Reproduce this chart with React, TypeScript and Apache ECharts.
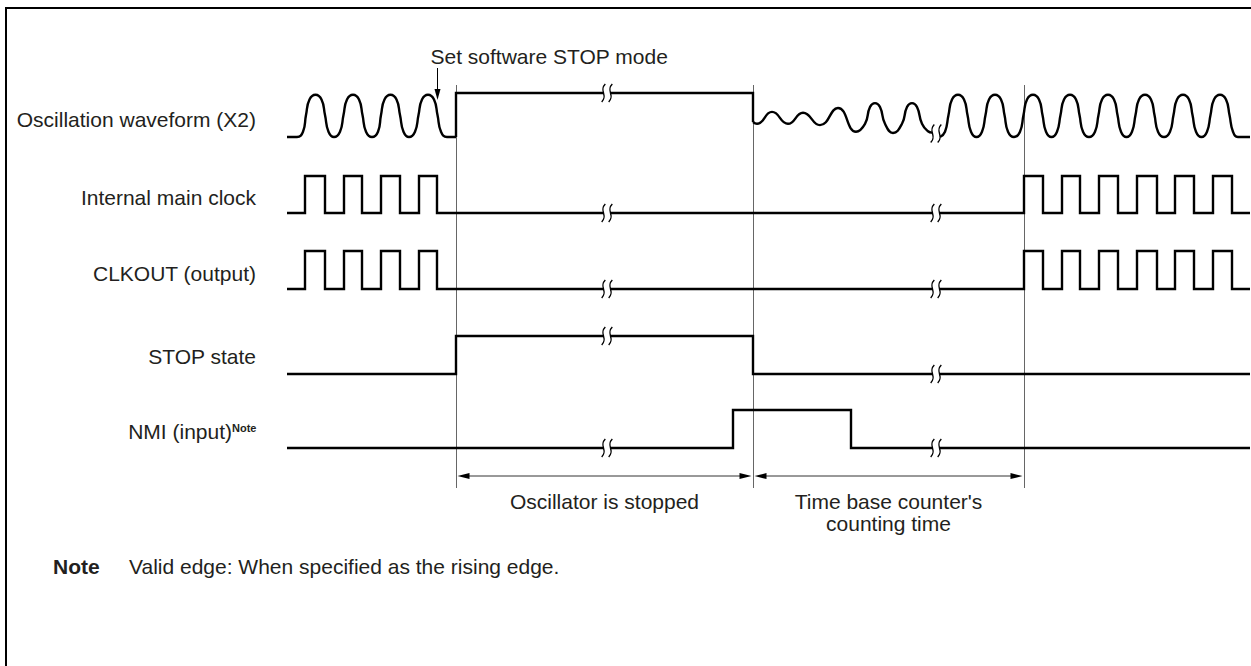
import React, { useEffect, useRef } from "react";
import * as echarts from "echarts";

const WIDTH = 1251;
const HEIGHT = 666;
const FONT = "'Liberation Sans', Arial, Helvetica, sans-serif";
const INK = "#000";
const TEXT = "#231f20";

// ---- time axis (arbitrary units) ----
const T_MIN = 0;
const T_MAX = 964;

// ---- signal names ----
const rowLabels = [
  "Oscillation waveform (X2)",
  "Internal main clock",
  "CLKOUT (output)",
  "STOP state",
  "NMI (input)",
];

// ---- Oscillation waveform (X2): [time, level] (0 = low, 1 = high) ----
const oscRunning = [
  [0, 0], [10, 0],
  [16, 0.12], [19, 0.5], [22.5, 0.85], [28.5, 0.96], [34.5, 0.85], [38, 0.5], [41.5, 0.12], [47, 0],
  [53, 0.12], [56.5, 0.5], [60, 0.85], [66, 0.96], [72, 0.85], [75.5, 0.5], [79, 0.12], [85, 0],
  [91, 0.12], [94, 0.5], [97.5, 0.85], [103.5, 0.96], [109.5, 0.85], [113, 0.5], [116.5, 0.12], [122, 0],
  [128, 0.12], [131.5, 0.5], [135, 0.85], [141, 0.96], [147, 0.85], [150.5, 0.5], [154, 0.12], [160, 0], [169, 0],
];
const oscStopped = [[169, 0], [169, 1], [466, 1], [466, 0.34]];
const oscRestart = [
  [466, 0.34], [470, 0.3], [485, 0.57], [501, 0.3], [516, 0.55], [533, 0.27], [551, 0.66], [569, 0.12],
  [578, 0.3], [583, 0.68], [588, 0.77], [593, 0.68], [598, 0.3], [606, 0.09],
  [615, 0.3], [620, 0.68], [625, 0.77], [630, 0.68], [635, 0.3], [641, 0.13], [645, 0.1],
];
const oscStable = [
  [653, 0],
  [658, 0.12], [661.5, 0.5], [665, 0.85], [671, 0.96], [677, 0.85], [680.5, 0.5], [684, 0.12], [689.5, 0],
  [695, 0.12], [698.5, 0.5], [702, 0.85], [708, 0.96], [714, 0.85], [717.5, 0.5], [721, 0.12], [727, 0],
  [733, 0.12], [736.5, 0.5], [740, 0.85], [746, 0.96], [752, 0.85], [755.5, 0.5], [759, 0.12], [764.5, 0],
  [770, 0.12], [773.5, 0.5], [777, 0.85], [783, 0.96], [789, 0.85], [792.5, 0.5], [796, 0.12], [802, 0],
  [808, 0.12], [811.5, 0.5], [815, 0.85], [821, 0.96], [827, 0.85], [830.5, 0.5], [834, 0.12], [839.5, 0],
  [845, 0.12], [848.5, 0.5], [852, 0.85], [858, 0.96], [864, 0.85], [867.5, 0.5], [871, 0.12], [877, 0],
  [883, 0.12], [886.5, 0.5], [890, 0.85], [896, 0.96], [902, 0.85], [905.5, 0.5], [909, 0.12], [914.5, 0],
  [920, 0.12], [923.5, 0.5], [927, 0.85], [933, 0.96], [939, 0.85], [942.5, 0.5], [946, 0.12], [951, 0], [963, 0],
];

// ---- digital signals: [time of change, new level] ----
const mainClockEdges = [
  [0, 0], [18, 1], [38, 0], [57, 1], [75, 0], [94, 1], [113, 0], [132, 1], [150, 0],
  [737, 1], [756, 0], [775, 1], [793, 0], [812, 1], [831, 0], [850, 1], [870, 0], [888, 1], [907, 0], [926, 1], [945, 0], [963, 0],
];
const clkoutEdges = [
  [0, 0], [18, 1], [38, 0], [57, 1], [75, 0], [94, 1], [113, 0], [132, 1], [150, 0],
  [737, 1], [756, 0], [775, 1], [793, 0], [812, 1], [831, 0], [850, 1], [870, 0], [888, 1], [907, 0], [926, 1], [945, 0], [963, 0],
];
const stopStateEdges = [[0, 0], [169, 1], [466, 0], [963, 0]];
const nmiEdges = [[0, 0], [446, 1], [564, 0], [963, 0]];

// ---- time-axis break marks: [row, time, level] ----
const breakMarks = [
  [0, 320, 1], [0, 649, 0.08],
  [1, 320, 0], [1, 649, 0],
  [2, 320, 0], [2, 649, 0],
  [3, 320, 1], [3, 649, 0],
  [4, 320, 0], [4, 649, 0],
];

// ---- phases ----
const phaseTimes = [169, 466, 737];
const stopCommandTime = 150;
const intervalFrom = [169, 466];
const intervalTo = [466, 737];
const intervalLabels = ["Oscillator is stopped", "Time base counter's\ncounting time"];

// ---- layout (pixels) ----
const SIG_LEFT = 287;
const ROW_TOP = [93, 176, 251, 336, 410];
const ROW_BOTTOM = [137, 213, 289, 374, 448];
const LABEL_RIGHT = 256;
const LABEL_Y = [119, 197, 273, 356, 431];
const PHASE_TOP = 85;
const PHASE_BOTTOM = 488;
const ARROW_Y = 476;
const CMD_ARROW_TOP = 68;
const CMD_ARROW_TIP = 100;
const CMD_TEXT_Y = 56;
const NOTE_Y = 566;

export default function App() {
  const ref = useRef<HTMLDivElement>(null);

  useEffect(() => {
    const chart = echarts.init(ref.current as HTMLDivElement, null, {
      renderer: "svg",
      width: WIDTH,
      height: HEIGHT,
    });

    const grids: any[] = ROW_TOP.map((top, i) => ({
      left: SIG_LEFT,
      right: 0,
      top,
      height: ROW_BOTTOM[i] - top,
      show: false,
    }));
    grids.push({ left: SIG_LEFT, right: 0, top: 0, bottom: 0, show: false });
    const OV = grids.length - 1;

    const xAxes = grids.map((_, i) => ({ type: "value", gridIndex: i, min: T_MIN, max: T_MAX, show: false }));
    const yAxes: any[] = ROW_TOP.map((_, i) => ({ type: "value", gridIndex: i, min: 0, max: 1, show: false }));
    yAxes.push({ type: "value", gridIndex: OV, min: 0, max: HEIGHT, inverse: true, show: false });

    const lineBase = (row: number) => ({
      type: "line",
      xAxisIndex: row,
      yAxisIndex: row,
      symbol: "none",
      clip: false,
      silent: true,
      z: 3,
      lineStyle: { color: INK, width: 2.4, cap: "butt", join: "miter" },
    });

    const series: any[] = [];
    series.push({ ...lineBase(0), smooth: 0.5, data: oscRunning });
    series.push({ ...lineBase(0), data: oscStopped });
    series.push({ ...lineBase(0), smooth: 0.5, data: oscRestart });
    series.push({ ...lineBase(0), smooth: 0.5, data: oscStable });
    series.push({ ...lineBase(1), step: "end", data: mainClockEdges });
    series.push({ ...lineBase(2), step: "end", data: clkoutEdges });
    series.push({ ...lineBase(3), step: "end", data: stopStateEdges });
    series.push({ ...lineBase(4), step: "end", data: nmiEdges });

    const renderBreak = (params: any, api: any) => {
      const p = api.coord([api.value(0), api.value(1)]);
      const x = p[0];
      const y = p[1];
      const half = 3.5;
      const h = 9;
      const curve = (cx: number) => ({
        type: "bezierCurve",
        shape: { x1: cx + 1.8, y1: y - h, cpx1: cx - 5, cpy1: y - 2, cpx2: cx + 5, cpy2: y + 2, x2: cx - 1.8, y2: y + h },
        style: { stroke: INK, lineWidth: 1.4, fill: "none" },
      });
      return {
        type: "group",
        children: [
          { type: "rect", shape: { x: x - half, y: y - 4, width: half * 2, height: 8 }, style: { fill: "#fff" } },
          curve(x - half),
          curve(x + half),
        ],
      };
    };

    ROW_TOP.forEach((_, row) => {
      series.push({
        type: "custom",
        xAxisIndex: row,
        yAxisIndex: row,
        clip: false,
        silent: true,
        z: 10,
        data: breakMarks.filter((b) => b[0] === row).map((b) => [b[1], b[2]]),
        renderItem: renderBreak,
      });
    });

    // phase (vertical) lines
    series.push({
      type: "custom",
      xAxisIndex: OV,
      yAxisIndex: OV,
      clip: false,
      silent: true,
      z: 1,
      data: phaseTimes.map((t) => [t]),
      renderItem: (params: any, api: any) => {
        const a = api.coord([api.value(0), PHASE_TOP]);
        const b = api.coord([api.value(0), PHASE_BOTTOM]);
        return {
          type: "line",
          shape: { x1: Math.round(a[0]) + 0.5, y1: a[1], x2: Math.round(b[0]) + 0.5, y2: b[1] },
          style: { stroke: "#666", lineWidth: 1 },
        };
      },
    });

    // dimension arrows with captions
    series.push({
      type: "custom",
      xAxisIndex: OV,
      yAxisIndex: OV,
      clip: false,
      silent: true,
      z: 4,
      data: intervalFrom.map((f, i) => [f, intervalTo[i]]),
      renderItem: (params: any, api: any) => {
        const a = api.coord([api.value(0), ARROW_Y]);
        const b = api.coord([api.value(1), ARROW_Y]);
        const L = 12;
        const w = 3;
        const ax = a[0] + 1.5;
        const bx = b[0] - 1.5;
        const y = a[1];
        return {
          type: "group",
          children: [
            { type: "line", shape: { x1: ax + L - 2, y1: y, x2: bx - L + 2, y2: y }, style: { stroke: "#333", lineWidth: 1 } },
            { type: "polygon", shape: { points: [[ax, y], [ax + L, y - w], [ax + L, y + w]] }, style: { fill: INK } },
            { type: "polygon", shape: { points: [[bx, y], [bx - L, y - w], [bx - L, y + w]] }, style: { fill: INK } },
            {
              type: "text",
              x: (a[0] + b[0]) / 2,
              y: y + 14,
              style: {
                text: intervalLabels[params.dataIndex],
                font: `21px ${FONT}`,
                fill: TEXT,
                align: "center",
                verticalAlign: "top",
                lineHeight: 22,
              },
            },
          ],
        };
      },
    });

    // "Set software STOP mode" arrow
    series.push({
      type: "custom",
      xAxisIndex: OV,
      yAxisIndex: OV,
      clip: false,
      silent: true,
      z: 4,
      data: [[stopCommandTime]],
      renderItem: (params: any, api: any) => {
        const top = api.coord([api.value(0), CMD_ARROW_TOP]);
        const tip = api.coord([api.value(0), CMD_ARROW_TIP]);
        const x = Math.round(top[0]) + 0.5;
        const L = 11;
        const w = 3;
        return {
          type: "group",
          children: [
            { type: "line", shape: { x1: x, y1: top[1], x2: x, y2: tip[1] - L + 2 }, style: { stroke: INK, lineWidth: 1 } },
            { type: "polygon", shape: { points: [[x, tip[1]], [x - w, tip[1] - L], [x + w, tip[1] - L]] }, style: { fill: INK } },
            {
              type: "text",
              x: x - 7,
              y: CMD_TEXT_Y,
              style: { text: "Set software STOP mode", font: `21px ${FONT}`, fill: TEXT, align: "left", verticalAlign: "middle" },
            },
          ],
        };
      },
    });

    const graphic: any[] = [
      {
        type: "rect",
        shape: { x: 6, y: 8, width: 1400, height: 900 },
        style: { fill: "none", stroke: INK, lineWidth: 2 },
        silent: true,
      },
    ];
    rowLabels.forEach((name, i) => {
      const isNmi = i === rowLabels.length - 1;
      graphic.push({
        type: "text",
        x: isNmi ? LABEL_RIGHT - 24 : LABEL_RIGHT,
        y: LABEL_Y[i],
        style: { text: name, font: `21px ${FONT}`, fill: TEXT, align: "right", verticalAlign: "middle" },
      });
      if (isNmi) {
        graphic.push({
          type: "text",
          x: LABEL_RIGHT - 24,
          y: LABEL_Y[i] - 9,
          style: { text: "Note", font: `bold 11px ${FONT}`, fill: TEXT, align: "left", verticalAlign: "top" },
        });
      }
    });
    graphic.push({
      type: "text",
      x: 53,
      y: NOTE_Y,
      style: { text: "Note", font: `bold 21px ${FONT}`, fill: TEXT, align: "left", verticalAlign: "middle" },
    });
    graphic.push({
      type: "text",
      x: 129,
      y: NOTE_Y,
      style: {
        text: "Valid edge: When specified as the rising edge.",
        font: `21px ${FONT}`,
        fill: TEXT,
        align: "left",
        verticalAlign: "middle",
      },
    });

    chart.setOption({
      animation: false,
      backgroundColor: "#fff",
      grid: grids,
      xAxis: xAxes,
      yAxis: yAxes,
      series,
      graphic,
    });

    return () => {
      chart.dispose();
    };
  }, []);

  return (
    <div
      ref={ref}
      style={{ position: "fixed", left: 0, top: 0, width: WIDTH, height: HEIGHT, background: "#fff" }}
    />
  );
}
